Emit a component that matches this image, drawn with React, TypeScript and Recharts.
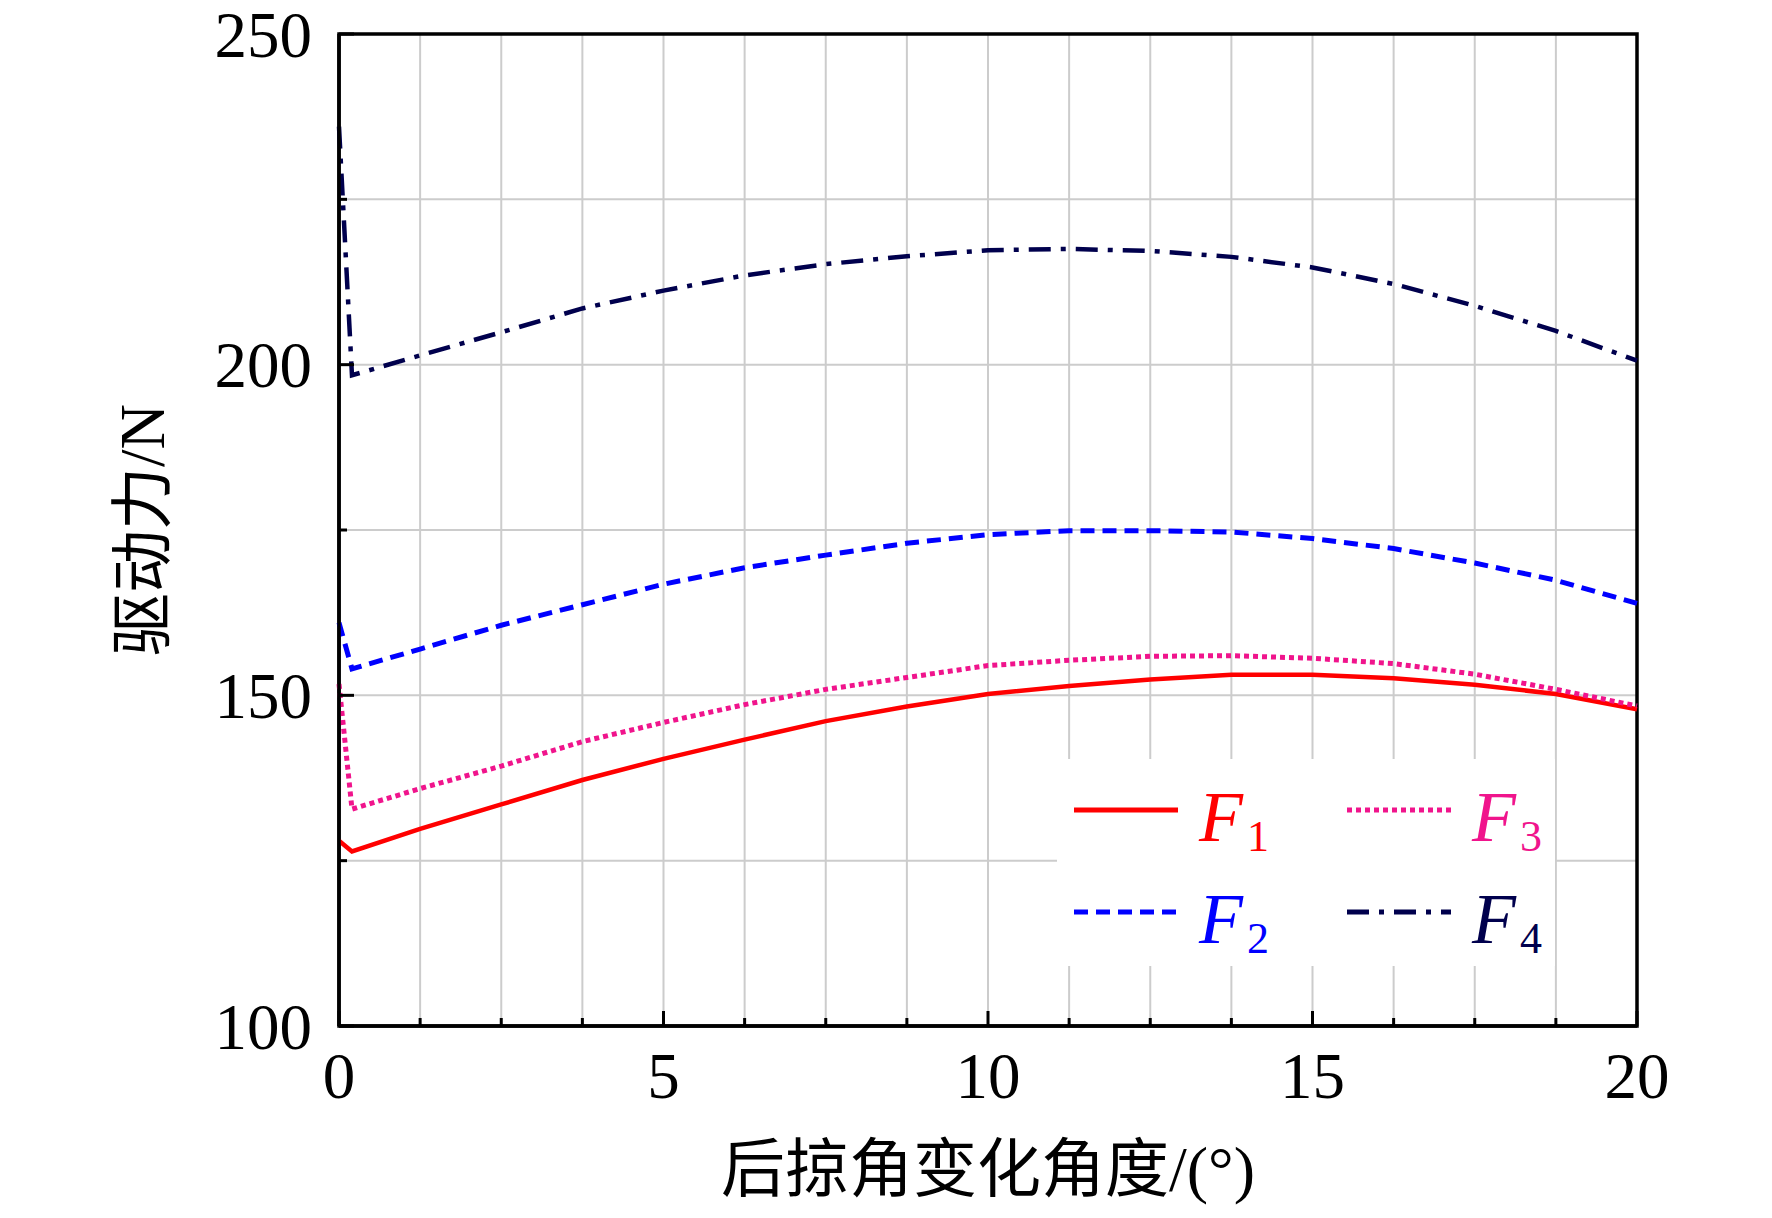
import React from 'react';
import {
  LineChart,
  Line,
  XAxis,
  YAxis,
  CartesianGrid,
  Legend,
  ReferenceArea,
} from 'recharts';

// sweep-back angle change (deg) and driving forces (N)
const angles = [0, 0.2, 1.25, 2.5, 3.75, 5, 6.25, 7.5, 8.75, 10, 11.25, 12.5, 13.75, 15, 16.25, 17.5, 18.75, 20];
const f1 = [128.0, 126.4, 129.8, 133.5, 137.2, 140.4, 143.3, 146.1, 148.3, 150.2, 151.4, 152.4, 153.1, 153.1, 152.6, 151.6, 150.2, 147.9];
const f2 = [161.0, 154.0, 157.0, 160.6, 163.7, 166.8, 169.3, 171.2, 173.0, 174.3, 174.9, 174.9, 174.7, 173.7, 172.2, 170.0, 167.4, 163.9];
const f3 = [151.7, 132.8, 135.9, 139.3, 143.0, 145.9, 148.6, 150.9, 152.7, 154.5, 155.3, 155.9, 156.0, 155.6, 154.8, 153.2, 150.9, 148.4];
const f4 = [236.0, 198.4, 201.4, 204.9, 208.5, 211.2, 213.5, 215.2, 216.4, 217.3, 217.5, 217.2, 216.3, 214.7, 212.2, 208.9, 205.1, 200.6];

const xTicks = [0, 1.25, 2.5, 3.75, 5, 6.25, 7.5, 8.75, 10, 11.25, 12.5, 13.75, 15, 16.25, 17.5, 18.75, 20];
const yTicks = [100, 125, 150, 175, 200, 225, 250];

const xTitle = '后掠角变化角度/(°)';
const yTitle = '驱动力/N';

const SERIES = [
  { key: 'f1', sub: '1', color: '#ff0000', dash: undefined, width: 4.5 },
  { key: 'f2', sub: '2', color: '#0000ff', dash: '14 8', width: 5 },
  { key: 'f3', sub: '3', color: '#f0148c', dash: '5 4', width: 5 },
  { key: 'f4', sub: '4', color: '#00004d', dash: '22 10 5 10', width: 4.5 },
];

const data = angles.map((a, i) => ({ angle: a, f1: f1[i], f2: f2[i], f3: f3[i], f4: f4[i] }));

const FONT = "'Liberation Serif', 'Times New Roman', 'Noto Sans CJK SC', serif";

const XTick = (props: any) => {
  const { x, y, payload } = props;
  const major = payload.value % 5 === 0;
  return (
    <g>
      <line x1={x} y1={y} x2={x} y2={y - (major ? 15 : 8)} stroke="#000" strokeWidth={3} />
      {major && (
        <text x={x} y={y + 72} textAnchor="middle" fontSize={65} fontFamily={FONT} fill="#000">
          {payload.value}
        </text>
      )}
    </g>
  );
};

const YTick = (props: any) => {
  const { x, y, payload } = props;
  const major = payload.value % 50 === 0;
  return (
    <g>
      <line x1={x} y1={y} x2={x + (major ? 15 : 8)} y2={y} stroke="#000" strokeWidth={3} />
      {major && (
        <text x={x - 27} y={y} dy="0.35em" textAnchor="end" fontSize={65} fontFamily={FONT} fill="#000">
          {payload.value}
        </text>
      )}
    </g>
  );
};

const XTitle = (props: any) => {
  const vb = props.viewBox;
  return (
    <text x={vb.x + vb.width / 2} y={vb.y + 165} textAnchor="middle" fontSize={64} fontFamily={FONT} fill="#000">
      {xTitle}
    </text>
  );
};

const YTitle = (props: any) => {
  const vb = props.viewBox;
  const cx = vb.x + vb.width - 197;
  const cy = vb.y + vb.height / 2;
  return (
    <text
      x={cx}
      y={cy}
      dy="0.35em"
      textAnchor="middle"
      fontSize={63}
      fontFamily={FONT}
      fill="#000"
      transform={`rotate(-90 ${cx} ${cy})`}
    >
      {yTitle}
    </text>
  );
};

const LegendBox = (props: any) => {
  const items = props.payload || [];
  return (
    <svg width={498} height={207} style={{ display: 'block', background: '#fff' }}>
      {items.map((entry: any, i: number) => {
        const s = SERIES.find((d) => d.key === entry.dataKey) || SERIES[i];
        const col = i >= 2 ? 1 : 0;
        const row = i % 2;
        const lx = col === 0 ? 17 : 290;
        const ly = row === 0 ? 51 : 153;
        return (
          <g key={s.key}>
            <line x1={lx} y1={ly} x2={lx + 104} y2={ly} stroke={s.color} strokeWidth={5} strokeDasharray={s.dash} />
            <text x={lx + 125} y={ly + 31} fontSize={72} fontFamily={FONT} fill={s.color} fontStyle="italic">
              F
              <tspan fontStyle="normal" fontSize={44} dy={10} dx={4}>
                {s.sub}
              </tspan>
            </text>
          </g>
        );
      })}
    </svg>
  );
};

export default function App() {
  return (
    <div style={{ width: 1756, height: 1202, background: '#fff' }}>
      <LineChart
        width={1756}
        height={1202}
        data={data}
        margin={{ top: 26, right: 127, bottom: 84, left: 231 }}
      >
        <CartesianGrid stroke="#cccccc" strokeWidth={2} />
        <XAxis
          dataKey="angle"
          type="number"
          domain={[0, 20]}
          ticks={xTicks}
          interval={0}
          height={100}
          tickSize={0}
          tickMargin={0}
          tickLine={false}
          axisLine={{ stroke: '#000', strokeWidth: 3.5 }}
          tick={<XTick />}
          label={XTitle}
        />
        <YAxis
          type="number"
          domain={[100, 250]}
          ticks={yTicks}
          interval={0}
          width={100}
          tickSize={0}
          tickMargin={0}
          tickLine={false}
          axisLine={{ stroke: '#000', strokeWidth: 3.5 }}
          tick={<YTick />}
          label={YTitle}
        />
        <ReferenceArea x1={0} x2={20} y1={100} y2={250} fill="none" stroke="#000" strokeWidth={3.5} ifOverflow="visible" />
        {SERIES.map((s) => (
          <Line
            key={s.key}
            dataKey={s.key}
            type="linear"
            stroke={s.color}
            strokeWidth={s.width}
            strokeDasharray={s.dash}
            dot={false}
            activeDot={false}
            isAnimationActive={false}
          />
        ))}
        <Legend
          layout="vertical"
          align="center"
          verticalAlign="middle"
          content={<LegendBox />}
          wrapperStyle={{ position: 'absolute', left: 1049, top: 751, width: 498, height: 207 }}
        />
      </LineChart>
    </div>
  );
}
